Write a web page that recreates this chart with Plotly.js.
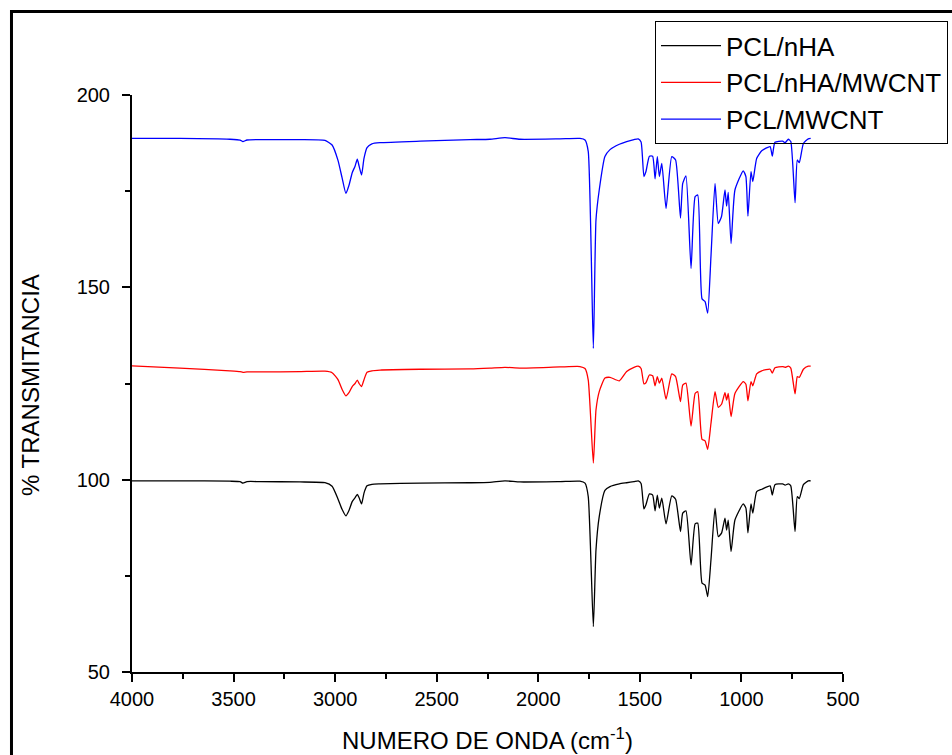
<!DOCTYPE html>
<html>
<head>
<meta charset="utf-8">
<script src="https://cdn.plot.ly/plotly-3.0.1.min.js"></script>
<style>
html,body{margin:0;padding:0;background:#fff;}
#chart{width:952px;height:755px;}
</style>
</head>
<body>
<div id="chart"></div>
<script>
// Wavenumbers (cm-1), shared by the three spectra
var wavenumber = [4000,3764,3518,3468,3454,3434,3370,3173,3050,3015,2986,2966,2947,2932,2916,2902,2891,2882,2870,2858,2843,2819,2779,2582,2336,2238,2164,2090,1893,1795,1770,1754,1729,1716,1700,1672,1647,1601,1565,1529,1508,1494,1480,1470,1453,1437,1425,1414,1404,1392,1371,1343,1324,1300,1289,1273,1248,1228,1215,1194,1179,1166,1150,1130,1114,1098,1081,1073,1065,1051,1032,991,978,968,953,944,925,900,859,848,835,797,785,769,757,736,725,715,695,671,659];

var pclNHA = [99.7,99.7,99.6,99.5,99.1,99.5,99.5,99.4,99.2,98.3,95.0,92.3,90.6,92.0,94.3,95.3,96.2,95.3,93.7,96.5,98.4,98.8,98.9,99.1,99.2,99.3,99.7,99.4,99.5,99.6,99.1,95.6,61.8,81.7,90.4,97.2,98.2,98.9,99.2,99.5,99.7,99.0,92.4,93.5,96.3,96.0,91.9,96.0,92.6,95.2,88.5,95.8,94.9,86.5,91.3,91.9,77.8,88.5,88.7,73.1,72.6,69.6,79.1,92.6,85.2,86.1,90.0,86.9,89.5,81.3,89.5,93.7,92.6,86.2,93.7,91.3,96.9,97.5,98.4,96.0,98.7,98.9,98.6,98.9,98.4,86.5,95.6,95.1,98.7,99.7,99.7];

var pclNHAMWCNT = [129.6,129.0,128.3,128.1,127.9,128.0,128.0,128.1,128.2,127.8,126.0,123.5,121.8,122.6,124.2,125.0,125.9,125.0,124.2,126.0,127.9,128.3,128.5,128.7,128.8,129.0,129.2,129.0,129.3,129.4,128.9,125.9,104.3,118.1,122.9,126.4,126.6,125.7,128.1,129.2,129.5,128.9,124.9,125.2,127.2,127.0,124.4,126.8,125.1,126.4,120.9,127.5,126.8,120.3,124.6,125.1,113.9,122.4,122.9,110.5,110.1,107.9,114.6,122.9,118.8,119.6,122.6,120.7,122.4,116.4,122.4,125.5,124.8,120.5,125.5,124.4,127.5,128.3,128.7,127.7,129.1,129.4,129.2,129.5,129.0,122.3,126.8,126.6,128.7,129.5,129.5];

var pclMWCNT = [188.7,188.7,188.5,188.3,187.9,188.3,188.4,188.4,188.2,187.0,183.0,178.5,174.4,176.5,179.8,181.5,183.3,181.5,179.2,183.5,186.3,187.3,187.6,188.0,188.4,188.5,188.9,188.5,188.6,188.7,188.3,185.3,134.1,167.5,175.3,184.0,185.8,187.2,187.9,188.4,188.6,187.8,178.8,180.1,184.1,184.1,178.2,184.0,178.8,182.2,170.5,184.0,183.1,168.0,177.0,179.0,154.9,173.6,174.0,147.0,146.3,143.3,158.0,177.0,166.6,168.4,175.3,171.1,174.7,161.4,175.3,180.3,178.8,168.5,180.1,177.5,183.5,185.5,186.6,184.1,187.7,188.0,187.6,188.5,187.9,172.0,183.1,182.4,187.4,188.6,188.7];

var seriesNames = ["PCL/nHA","PCL/nHA/MWCNT","PCL/MWCNT"];
var xTicks = [4000,3500,3000,2500,2000,1500,1000,500];
var yTicks = [50,100,150,200];

var FONT = "Arial, 'Liberation Sans', sans-serif";

var lineShape = {shape: "spline", smoothing: 0.5, width: 1.3};
var traces = [
  {x: wavenumber, y: pclNHA, name: seriesNames[0], mode: "lines", line: Object.assign({color: "#000000"}, lineShape)},
  {x: wavenumber, y: pclNHAMWCNT, name: seriesNames[1], mode: "lines", line: Object.assign({color: "#ff0000"}, lineShape)},
  {x: wavenumber, y: pclMWCNT, name: seriesNames[2], mode: "lines", line: Object.assign({color: "#0000ff"}, lineShape)}
];

var layout = {
  width: 952, height: 755,
  margin: {l: 132, r: 109, t: 95, b: 83, pad: 0, autoexpand: false},
  paper_bgcolor: "#ffffff", plot_bgcolor: "#ffffff",
  font: {family: FONT, color: "#000000", size: 20},
  showlegend: true,
  legend: {
    x: 0.7356, y: 1.128, xanchor: "left", yanchor: "top",
    bordercolor: "#000000", borderwidth: 1, bgcolor: "rgba(255,255,255,0)",
    font: {family: FONT, size: 26, color: "#000000"},
    tracegroupgap: 0, itemwidth: 60
  },
  xaxis: {
    range: [4000, 500], autorange: false,
    tickvals: xTicks, ticktext: xTicks.map(String),
    ticks: "outside", ticklen: 8, tickwidth: 2, tickcolor: "#000",
    minor: {dtick: 250, tick0: 500, ticks: "outside", ticklen: 5, tickwidth: 2, tickcolor: "#000", showgrid: false},
    showline: true, linecolor: "#000", linewidth: 2, mirror: false,
    showgrid: false, zeroline: false,
    tickfont: {family: FONT, size: 20, color: "#000"}
  },
  yaxis: {
    range: [50, 200], autorange: false,
    tickvals: yTicks, ticktext: yTicks.map(String),
    ticks: "outside", ticklen: 8, tickwidth: 2, tickcolor: "#000",
    ticklabelstandoff: 8,
    minor: {dtick: 25, tick0: 50, ticks: "outside", ticklen: 5, tickwidth: 2, tickcolor: "#000", showgrid: false},
    showline: true, linecolor: "#000", linewidth: 2, mirror: false,
    showgrid: false, zeroline: false,
    tickfont: {family: FONT, size: 20, color: "#000"}
  },
  annotations: [
    {text: "NUMERO DE ONDA (cm<sup>-1</sup>)", xref: "paper", yref: "paper", x: 0.5, y: -0.1155,
     xanchor: "center", yanchor: "middle", showarrow: false, font: {family: FONT, size: 24, color: "#000"}},
    {text: "% TRANSMITANCIA", xref: "paper", yref: "paper", x: -0.1435, y: 0.4974, textangle: -90,
     xanchor: "center", yanchor: "middle", showarrow: false, font: {family: FONT, size: 24, color: "#000"}}
  ],
  shapes: [
    {type: "rect", xref: "paper", yref: "paper", x0: -0.1695, x1: 1.17, y0: -0.175, y1: 1.1447,
     line: {color: "#000", width: 3}, fillcolor: "rgba(0,0,0,0)", layer: "below"}
  ]
};

Plotly.newPlot("chart", traces, layout, {displayModeBar: false, staticPlot: true});
</script>
</body>
</html>
